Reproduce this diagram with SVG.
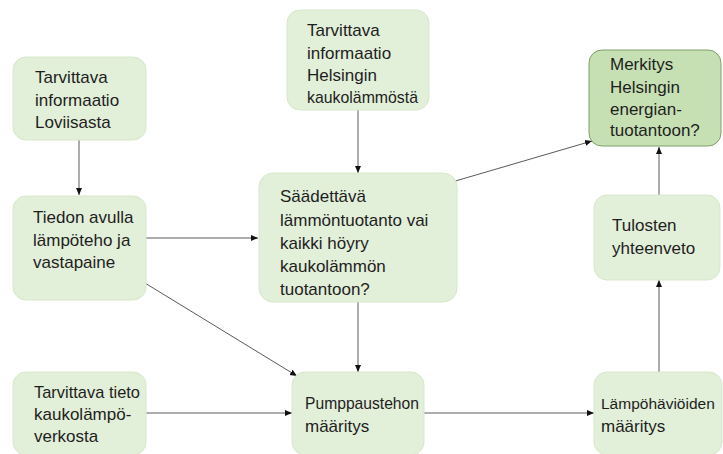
<svg xmlns="http://www.w3.org/2000/svg" width="723" height="454" viewBox="0 0 723 454">
<style>
.box{fill:#e2efd9;stroke:#d6e8ca;stroke-width:1}
.dark{fill:#c6e0b3;stroke:#7f9f68;stroke-width:1}
text{font-family:"Liberation Sans",Arial,sans-serif;font-size:17px;fill:#1e1e1e}
.c line{stroke:#5a5a5a;stroke-width:1;marker-end:url(#ah)}
</style>
<defs>
<marker id="ah" markerUnits="userSpaceOnUse" markerWidth="8" markerHeight="8" viewBox="0 0 8 8" refX="7" refY="4" orient="auto">
<path d="M0,1 L7,4 L0,7 Z" fill="#111"/>
</marker>
</defs>
<rect width="723" height="454" fill="#fff"/>
<g class="c">
<line x1="79" y1="140" x2="79" y2="195"/>
<line x1="358" y1="110" x2="358" y2="173"/>
<line x1="146" y1="238" x2="258" y2="238"/>
<line x1="140" y1="280" x2="297" y2="376"/>
<line x1="358" y1="302" x2="358" y2="372"/>
<line x1="452" y1="182" x2="592" y2="141"/>
<line x1="146" y1="413" x2="292" y2="413"/>
<line x1="424" y1="413" x2="594" y2="413"/>
<line x1="659" y1="372" x2="659" y2="280"/>
<line x1="659" y1="195" x2="659" y2="147"/>
</g>
<g id="n1"><rect class="box" x="13" y="57" width="133" height="83" rx="13"/>
<text x="35" y="83">Tarvittava</text><text x="35" y="106">informaatio</text><text x="35" y="128">Loviisasta</text></g>
<g id="n2"><rect class="box" x="13" y="196" width="133" height="104" rx="13"/>
<text x="33" y="223">Tiedon avulla</text><text x="33" y="246">lämpöteho ja</text><text x="33" y="268">vastapaine</text></g>
<g id="n3"><rect class="box" x="287" y="10" width="142" height="100" rx="13"/>
<text x="307" y="36">Tarvittava</text><text x="307" y="59">informaatio</text><text x="307" y="81">Helsingin</text><text x="307" y="103" textLength="111" lengthAdjust="spacingAndGlyphs">kaukolämmöstä</text></g>
<g id="n4"><rect class="box" x="259" y="173" width="198" height="129" rx="14"/>
<text x="280" y="202">Säädettävä</text><text x="280" y="226">lämmöntuotanto vai</text><text x="280" y="249">kaikki höyry</text><text x="280" y="272">kaukolämmön</text><text x="280" y="295">tuotantoon?</text></g>
<g id="n5"><rect class="dark" x="589" y="50" width="132" height="96" rx="13"/>
<text x="610" y="70">Merkitys</text><text x="610" y="93">Helsingin</text><text x="610" y="115">energian-</text><text x="610" y="136">tuotantoon?</text></g>
<g id="n6"><rect class="box" x="594" y="195" width="126" height="85" rx="13"/>
<text x="612" y="231">Tulosten</text><text x="612" y="254">yhteenveto</text></g>
<g id="n7"><rect class="box" x="13" y="372" width="133" height="83" rx="13"/>
<text x="34" y="398" textLength="106" lengthAdjust="spacingAndGlyphs">Tarvittava tieto</text><text x="34" y="420">kaukolämpö-</text><text x="34" y="442">verkosta</text></g>
<g id="n8"><rect class="box" x="292" y="372" width="132" height="83" rx="13"/>
<text x="305" y="409" textLength="114" lengthAdjust="spacingAndGlyphs">Pumppaustehon</text><text x="305" y="432">määritys</text></g>
<g id="n9"><rect class="box" x="594" y="372" width="128" height="83" rx="13"/>
<text x="601" y="409" style="font-size:15.5px">Lämpöhäviöiden</text><text x="601" y="432">määritys</text></g>
</svg>
